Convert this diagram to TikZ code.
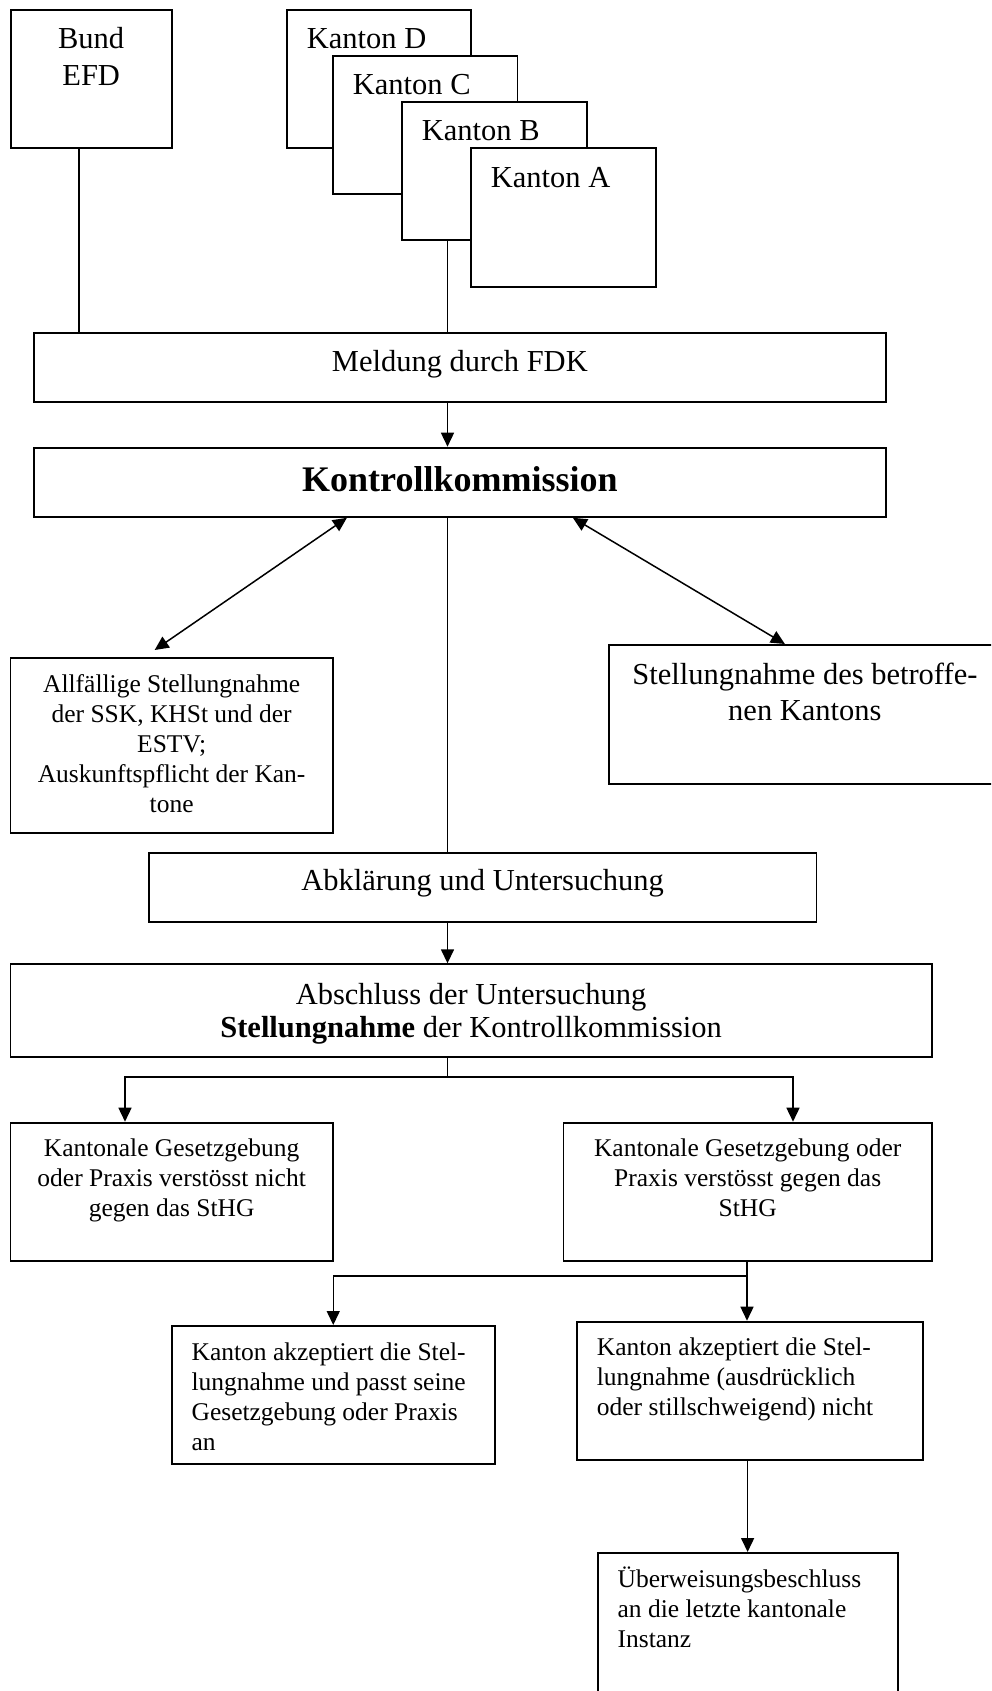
\documentclass[tikz,border=0pt]{standalone}
\usepackage{fontspec}
\setmainfont{Liberation Serif}
\usetikzlibrary{arrows.meta}
\newcommand{\bxc}[5]{\begin{minipage}[t][#2][t]{#1}#3\rule{0pt}{#4}#5\end{minipage}}
\begin{document}
\begin{tikzpicture}[x=1pt,y=-1pt,
  box/.style={draw, line width=1.8pt, inner sep=0pt, anchor=north west, fill=white},
  big/.style={font=\fontsize{30.5}{37}\selectfont},
  small/.style={font=\fontsize{25.5}{30}\selectfont},
  ln/.style={line width=1.5pt},
  arr/.style={line width=1.5pt, -{Triangle[length=14pt,width=13pt]}},
  dbl/.style={line width=1.5pt, {Triangle[length=14pt,width=13pt]}-{Triangle[length=14pt,width=13pt]}}]
\useasboundingbox (0,0) rectangle (991,1691);
\clip (0,0) rectangle (991,1691);

% top boxes
\node[box, font=\fontsize{30.5}{37.3}\selectfont] (bund) at (9.8,9.3) {\bxc{161pt}{138pt}{\centering}{38.4pt}{Bund\\EFD}};
\node[box,big] (kd) at (286,9.3) {\bxc{184pt}{138pt}{\raggedright\leftskip=20pt}{38.5pt}{Kanton D}};
\node[box,big] (kc) at (332,55) {\bxc{184.5pt}{138pt}{\raggedright\leftskip=20pt}{38.5pt}{Kanton C}};
\node[box,big] (kb) at (401,101) {\bxc{185pt}{138pt}{\raggedright\leftskip=20pt}{38.5pt}{Kanton B}};
\node[box,big] (ka) at (470,147) {\bxc{185pt}{139pt}{\raggedright\leftskip=20pt}{39.5pt}{Kanton A}};

% main flow
\node[box,big] (meld) at (33,331.7) {\bxc{852pt}{69pt}{\centering}{39pt}{Meldung durch FDK}};
\node[box, font=\fontsize{36}{40}\selectfont\bfseries] (kk) at (33,446.7) {\bxc{852pt}{69.3pt}{\centering}{44pt}{Kontrollkommission}};
\node[box,small] (allf) at (9.5,657) {\bxc{322.5pt}{175pt}{\centering}{34.7pt}{Allfällige Stellungnahme\\der SSK, KHSt und der\\ESTV;\\Auskunftspflicht der Kan-\\tone}};
\node[box, font=\fontsize{30.5}{36}\selectfont] (stel) at (608,644) {\bxc{392pt}{139pt}{\centering}{39.3pt}{Stellungnahme des betroffe-\\nen Kantons}};
\node[box,big] (abkl) at (148,851.7) {\bxc{667.5pt}{69.3pt}{\centering}{38.3pt}{Abklärung und Untersuchung}};
\node[box, font=\fontsize{30.5}{33.4}\selectfont] (absch) at (9.5,963.3) {\bxc{921.5pt}{92.7pt}{\centering}{40pt}{Abschluss der Untersuchung\\\textbf{Stellungnahme} der Kontrollkommission}};
\node[box,small] (kgl) at (9.5,1121.7) {\bxc{322.5pt}{138.3pt}{\centering}{34.3pt}{Kantonale Gesetzgebung\\oder Praxis verstösst nicht\\gegen das StHG}};
\node[box,small] (kgr) at (562.6,1121.7) {\bxc{368.4pt}{138.3pt}{\centering}{34.3pt}{Kantonale Gesetzgebung oder\\Praxis verstösst gegen das\\StHG}};
\node[box,small] (akl) at (170.7,1325) {\bxc{323.3pt}{138pt}{\raggedright\leftskip=20pt}{34.3pt}{Kanton akzeptiert die Stel-\\lungnahme und passt seine\\Gesetzgebung oder Praxis\\an}};
\node[box,small] (akr) at (576,1320.7) {\bxc{345.7pt}{138.3pt}{\raggedright\leftskip=20pt}{34.3pt}{Kanton akzeptiert die Stel-\\lungnahme (ausdrücklich\\oder stillschweigend) nicht}};
\node[box,small] (uew) at (596.7,1552) {\bxc{300pt}{150pt}{\raggedright\leftskip=20pt}{34.7pt}{Überweisungsbeschluss\\an die letzte kantonale\\Instanz}};

% helper coordinates
\coordinate (xb) at (79,0);
\coordinate (xk) at (447.5,0);
\coordinate (xl) at (125,0);
\coordinate (xr) at (793,0);
\coordinate (j1) at (447.5,1077);
\coordinate (j2) at (747,1276);

% connectors
\draw[ln] (bund.south -| xb) -- (meld.north -| xb);
\draw[ln] (kb.south -| xk) -- (meld.north -| xk);
\draw[arr] (meld.south -| xk) -- (kk.north -| xk);
\draw[dbl] ([xshift=-113pt]kk.south) -- ([xshift=-17pt,yshift=7pt]allf.north);
\draw[dbl] ([xshift=113pt]kk.south) -- ([xshift=-20pt]stel.north);
\draw[ln] (kk.south -| xk) -- (abkl.north -| xk);
\draw[arr] (abkl.south -| xk) -- (absch.north -| xk);
\draw[ln] (absch.south -| xk) -- (j1);
\draw[arr] (j1) -| (kgl.north -| xl);
\draw[arr] (j1) -| (kgr.north -| xr);
\draw[ln] (kgr.south -| j2) -- (j2);
\draw[arr] (j2) -| (akl.north);
\draw[arr] (j2) -- (akr.north -| j2);
\draw[arr] (akr.south -| uew.north) -- (uew.north);
\end{tikzpicture}
\end{document}
